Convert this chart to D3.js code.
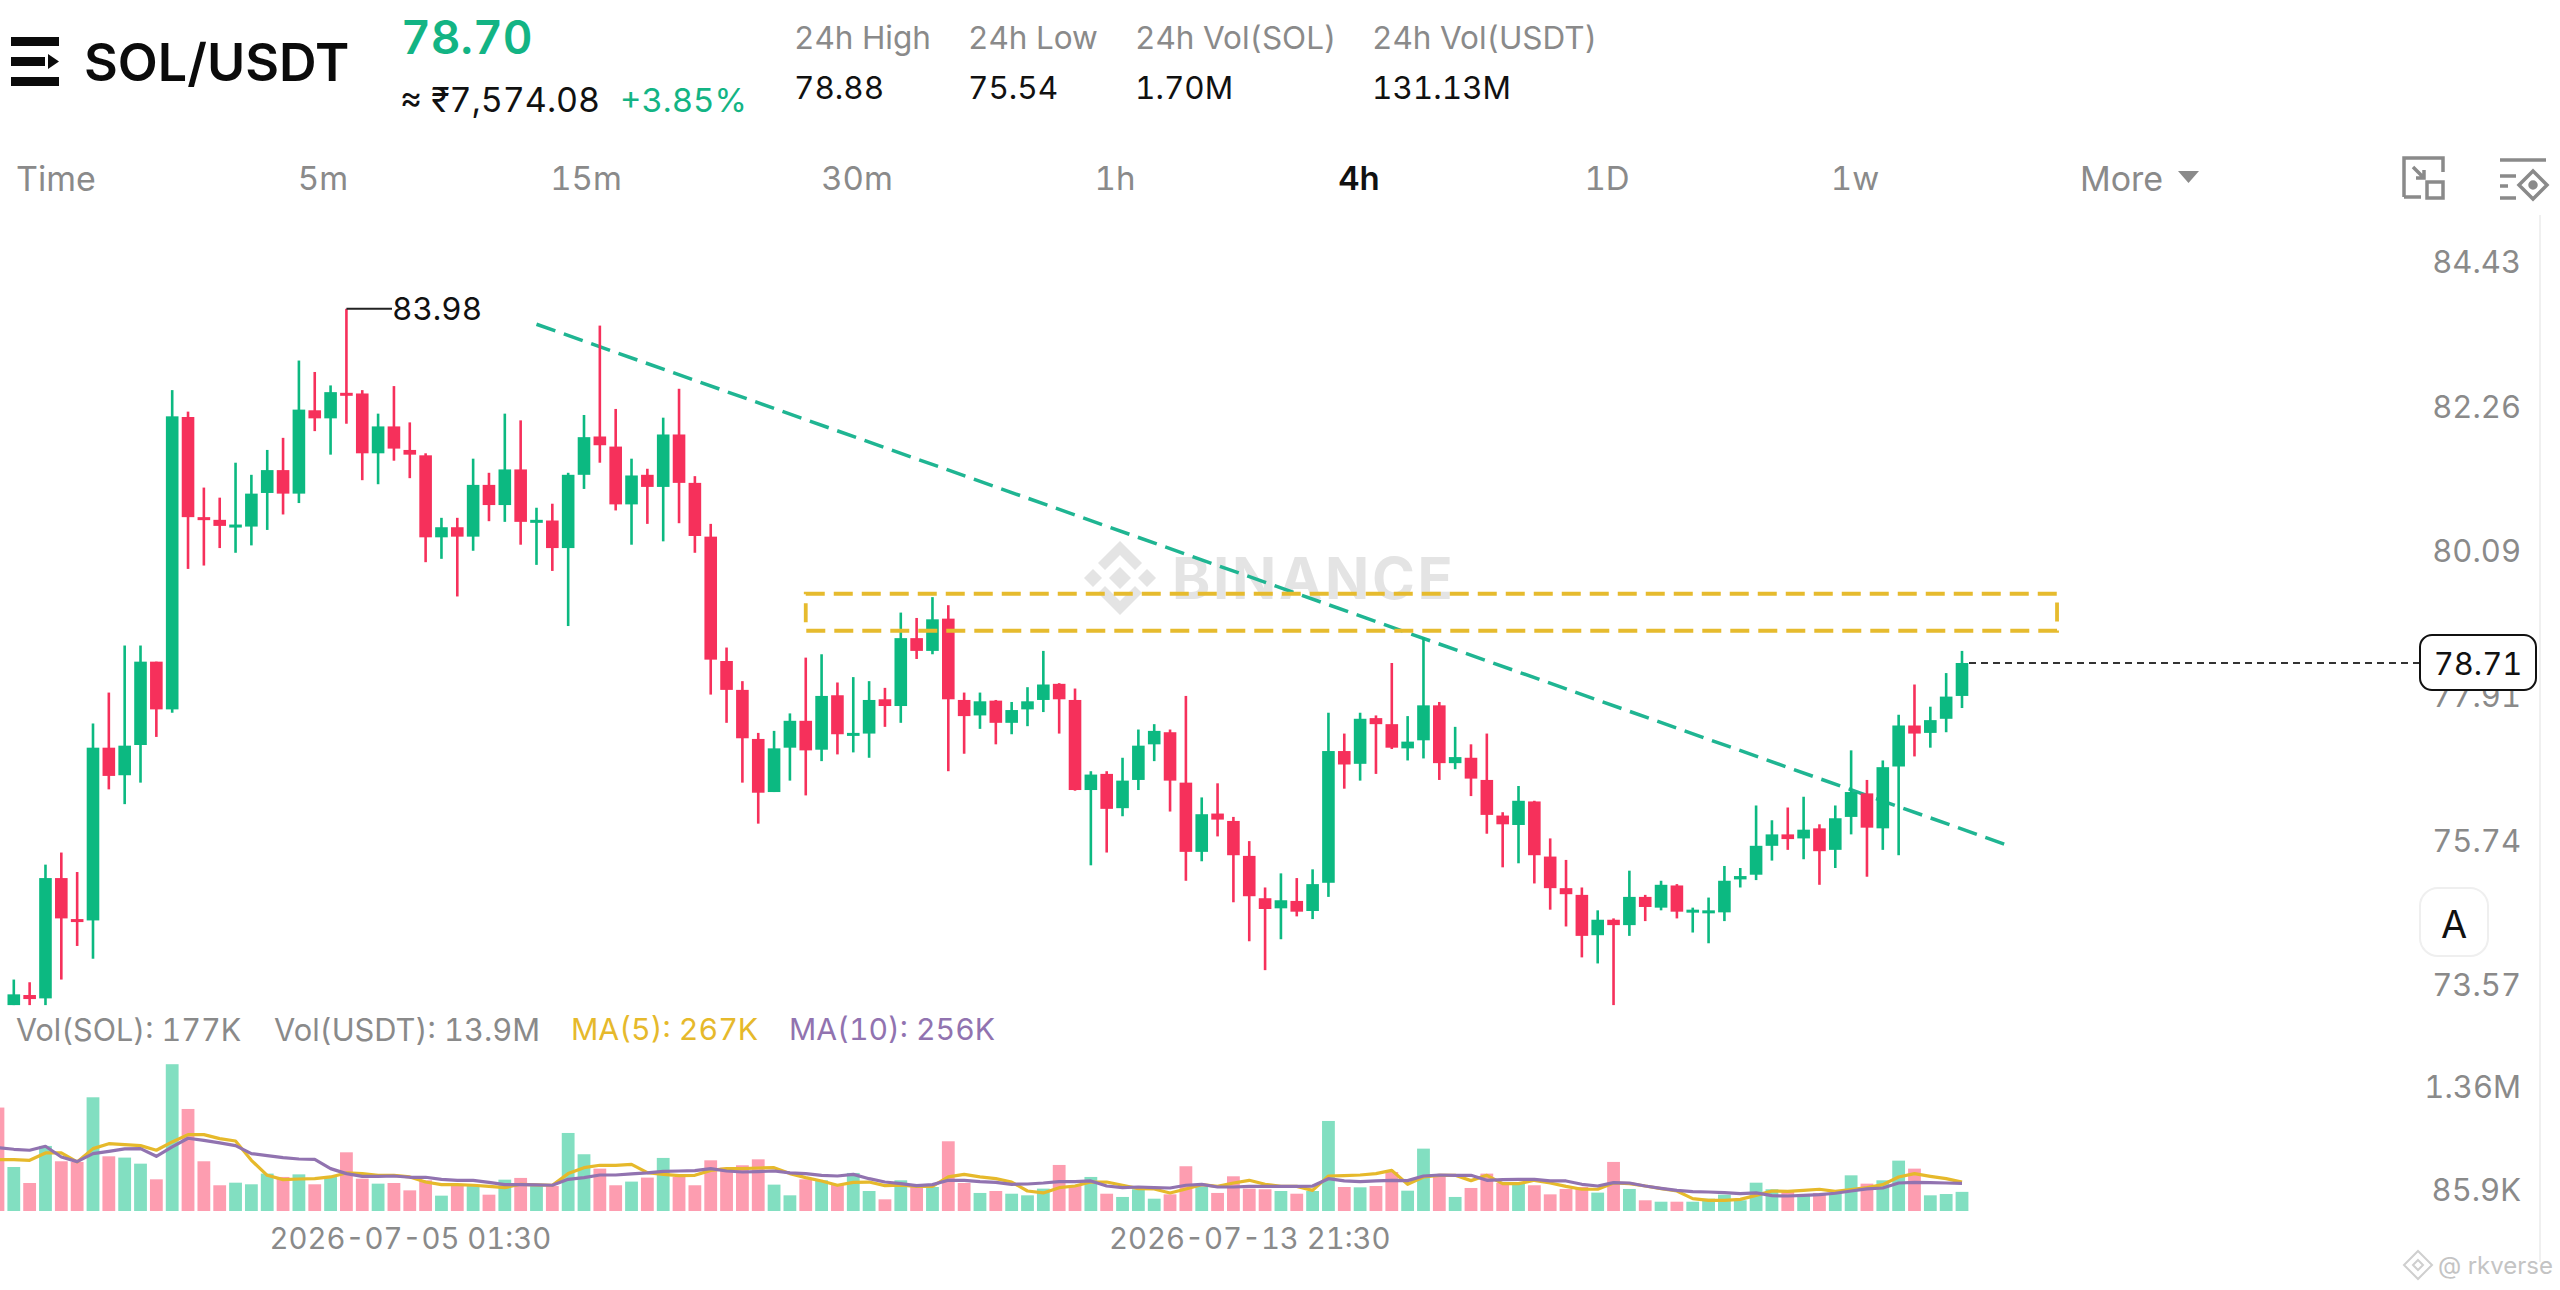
<!DOCTYPE html>
<html>
<head>
<meta charset="utf-8">
<script src="https://cdn.jsdelivr.net/npm/d3@7"></script>
<style>
  html, body { margin: 0; padding: 0; background: #fff; }
  svg { display: block; }
  text { font-family: Inter, Roboto, sans-serif; font-variant-numeric: tabular-nums; }
</style>
</head>
<body>
<script>
// Candles
const opens = [73.62,73.77,73.72,75.51,74.90,74.88,77.45,77.04,77.49,78.73,78.02,82.37,80.88,80.84,80.74,80.74,81.24,81.58,81.23,82.47,82.35,82.73,82.72,81.83,82.23,81.88,81.80,80.58,80.73,80.59,81.36,81.06,81.59,80.82,80.83,80.42,81.51,82.08,81.93,81.07,81.51,81.33,82.11,81.39,80.59,78.74,78.31,77.58,76.79,77.45,77.85,77.42,78.23,77.65,77.66,78.17,78.07,79.08,78.89,79.37,78.16,77.93,78.15,77.82,78.02,78.16,78.40,78.16,76.82,77.06,76.55,76.97,77.50,77.68,76.93,75.90,76.47,76.36,75.84,75.21,75.06,75.17,75.02,75.44,77.40,77.21,77.89,77.80,77.44,77.56,78.08,77.22,77.30,76.97,76.44,76.30,76.65,75.83,75.36,75.26,74.66,74.89,74.81,75.23,75.07,75.40,75.02,75.01,75.00,75.49,75.56,75.99,76.16,76.10,76.25,75.93,76.42,76.77,76.25,77.17,77.78,77.67,77.88,78.22]
const closes = [73.78,73.71,75.51,74.91,74.87,77.45,77.03,77.48,78.73,78.02,82.38,80.88,80.85,80.75,80.77,81.23,81.58,81.23,82.48,82.35,82.74,82.70,81.83,82.23,81.90,81.81,80.58,80.73,80.59,81.36,81.06,81.59,80.81,80.84,80.42,81.51,82.07,81.95,81.07,81.50,81.33,82.11,81.39,80.60,78.76,78.31,77.59,76.78,77.44,77.85,77.41,78.22,77.65,77.67,78.16,78.07,79.08,78.89,79.36,78.17,77.92,78.14,77.82,78.01,78.14,78.39,78.17,76.82,77.05,76.54,76.96,77.48,77.70,76.96,75.90,76.46,76.38,75.85,75.24,75.05,75.18,75.01,75.42,77.40,77.20,77.88,77.80,77.45,77.54,78.08,77.22,77.31,76.99,76.45,76.31,76.66,75.85,75.36,75.27,74.65,74.89,74.81,75.23,75.08,75.41,75.01,75.04,75.03,75.47,75.54,75.99,76.16,76.09,76.23,75.91,76.40,76.79,76.26,77.16,77.78,77.66,77.86,78.21,78.71]
const highs = [74.00,73.96,75.71,75.89,75.60,77.81,78.27,78.97,78.97,78.73,82.77,82.45,81.32,81.17,81.69,81.51,81.88,82.06,83.21,83.04,82.84,83.98,82.77,82.42,82.83,82.29,81.83,80.87,80.87,81.75,81.54,82.42,82.32,81.02,81.08,81.54,82.40,83.73,82.49,81.75,81.60,82.36,82.79,81.49,80.78,78.94,78.44,77.67,77.70,77.96,78.79,78.84,78.42,78.50,78.44,78.34,79.46,79.38,79.69,79.57,78.27,78.27,78.16,78.13,78.35,78.89,78.41,78.33,77.10,77.10,77.30,77.72,77.80,77.72,78.22,76.71,76.92,76.42,76.06,75.37,75.58,75.51,75.64,77.97,77.66,77.97,77.93,78.71,77.92,79.09,78.13,77.76,77.50,77.66,76.49,76.88,76.66,76.10,75.78,75.37,75.03,74.91,75.62,75.26,75.47,75.42,75.07,75.22,75.69,75.66,76.59,76.37,76.56,76.72,76.31,76.59,77.41,76.97,77.26,77.94,78.39,78.06,78.56,78.89]
const lows = [73.62,73.62,73.62,74.00,74.50,74.31,76.83,76.61,76.93,77.61,77.97,80.11,80.16,80.42,80.35,80.46,80.69,80.92,81.09,82.16,81.81,82.27,81.43,81.37,81.72,81.46,80.21,80.26,79.70,80.38,80.82,80.81,80.47,80.17,80.08,79.26,81.30,81.69,80.98,80.47,80.78,80.52,80.79,80.35,78.24,77.82,76.93,76.32,76.79,76.96,76.74,77.25,77.35,77.38,77.30,77.76,77.82,78.77,78.84,77.10,77.36,77.73,77.50,77.65,77.77,77.98,77.66,76.81,75.70,75.89,76.43,76.82,77.25,76.50,75.47,75.76,76.13,75.15,74.57,74.14,74.60,74.94,74.90,75.23,76.84,76.96,77.06,77.43,77.26,77.29,76.97,77.13,76.73,76.17,75.67,75.73,75.43,75.04,74.79,74.33,74.24,73.62,74.65,74.87,75.03,74.91,74.70,74.54,74.87,75.37,75.48,75.77,75.93,75.79,75.41,75.66,76.16,75.53,75.93,75.85,77.32,77.45,77.68,78.04]

// Volume panel (thousands of SOL). First entry belongs to the bar cut off at the left edge.
const volumes = [957,407,259,602,460,454,1052,506,494,438,293,1358,944,460,238,262,247,346,315,339,247,315,543,299,253,259,191,284,142,238,235,151,290,306,231,231,722,525,392,238,272,309,491,315,238,469,401,423,478,244,145,293,284,247,352,185,108,284,222,222,645,259,167,185,160,145,207,426,238,315,160,130,201,114,154,414,228,167,321,207,201,185,160,185,833,222,219,231,361,188,577,315,130,213,346,259,259,238,154,204,222,170,454,204,99,86,86,86,114,151,99,262,201,176,145,167,167,330,253,284,466,392,145,157,177]
const ma5 = [475,475,469,537,537,454,577,623,614,605,562,639,707,707,670,648,469,330,290,296,299,315,352,346,330,330,315,268,244,244,238,228,216,247,241,238,346,401,423,423,432,355,339,327,330,376,392,392,398,401,346,309,278,238,265,268,235,238,228,228,315,339,315,299,268,185,167,216,231,268,268,238,207,204,167,204,244,228,259,284,247,228,228,191,324,327,333,346,376,247,315,330,330,281,330,253,253,284,259,228,201,201,259,253,231,207,185,114,99,99,108,145,185,182,191,201,182,198,216,244,315,346,321,299,267]
const ma10 = [586,571,562,599,500,457,531,552,574,577,506,593,673,654,630,605,531,512,494,481,478,392,346,321,321,324,312,312,293,284,284,265,244,244,241,238,293,309,333,333,343,352,367,370,373,392,370,361,364,370,352,346,330,324,339,299,268,253,235,244,284,284,272,265,247,250,259,272,272,278,231,216,222,216,213,238,247,222,222,228,228,228,228,231,299,278,272,278,284,281,324,333,330,330,284,290,293,293,278,278,247,231,262,259,231,210,191,179,176,170,160,167,142,139,145,151,164,185,204,213,259,265,262,259,256]

// Axis labels
const priceTicks = [84.43, 82.26, 80.09, 77.91, 75.74, 73.57]
const volTicks = [1360, 85.9]
const volTickLabels = ['1.36M', '85.9K']
const timeTicks = [25, 78]
const timeLabels = ['2026-07-05 01:30', '2026-07-13 21:30']

// Header texts
const statHeads = ['24h High', '24h Low', '24h Vol(SOL)', '24h Vol(USDT)']
const statValues = ['78.88', '75.54', '1.70M', '131.13M']
const tabs = ['5m', '15m', '30m', '1h', '4h', '1D', '1w']

// Drawings on the chart, as candle index / price
const trendLine = [[33, 83.75], [126.1, 75.98]]
const zone = { from: 50, to: 129, top: 79.74, bottom: 79.19 }
const lastPrice = 78.71
const maxPrice = 83.98

const colors = {
  up: '#0CB981',
  down: '#F6305B',
  volUp: '#82DFC1',
  volDown: '#FD9DB0',
  trend: '#1FB592',
  zone: '#E6BB2E',
  ma5: '#E6B92B',
  ma10: '#9173B0',
  muted: '#8A8A8A',
  text: '#111111',
  quote: '#13B484',
}

const svg = d3.select('body').append('svg')
  .attr('width', 2560).attr('height', 1290)
  .attr('viewBox', '0 0 2560 1290')

svg.append('rect').attr('width', 2560).attr('height', 1290).attr('fill', '#fff')

// Scales
const x = d3.scaleLinear().domain([0, 123]).range([13.8, 1962])
const y = d3.scaleLinear().domain([78.71, 83.98]).range([663, 308.8])
const yVol = d3.scaleLinear().domain([0, 1360]).range([1211, 1064])
// the printed price labels run on their own slightly tighter spacing
const yLabel = d3.scaleLinear().domain([84.43, 73.57]).range([263, 986])

function label(txt, px, py, size, fill, opts = {}) {
  return svg.append('text')
    .attr('x', px).attr('y', py)
    .attr('dominant-baseline', 'central')
    .attr('text-anchor', opts.anchor || 'start')
    .style('font-size', size + 'px')
    .style('font-weight', opts.weight || 400)
    .style('fill', fill)
    .text(txt)
}

// Watermark
const wm = svg.append('g').attr('transform', 'translate(1120,578)').attr('fill', '#E4E4E4')
const diamond = (cx, cy, r) => `M${cx},${cy - r}L${cx + r},${cy}L${cx},${cy + r}L${cx - r},${cy}Z`
wm.append('path').attr('d', diamond(0, 0, 11))
wm.append('path').attr('d', diamond(-27, 0, 9))
wm.append('path').attr('d', diamond(27, 0, 9))
wm.append('path').attr('d', 'M0,-37L22,-15L15,-8L0,-23L-15,-8L-22,-15Z')
wm.append('path').attr('d', 'M0,37L22,15L15,8L0,23L-15,8L-22,15Z')
label('BINANCE', 1172, 578, 58, '#E4E4E4', { weight: 700 }).style('letter-spacing', '2.7px')

// Header
const logo = svg.append('g').attr('fill', '#0B0B0B')
logo.append('rect').attr('x', 11).attr('y', 37).attr('width', 48).attr('height', 9)
logo.append('rect').attr('x', 11).attr('y', 57).attr('width', 34).attr('height', 9)
logo.append('path').attr('d', 'M48,54L59,61.5L48,69Z')
logo.append('rect').attr('x', 11).attr('y', 77).attr('width', 48).attr('height', 9)

label('SOL/USDT', 84, 62, 52, '#0B0B0B', { weight: 600 })
label('78.70', 401, 37, 46, colors.quote, { weight: 600 })
label('≈ ₹7,574.08', 400, 99, 34, colors.text)
label('+3.85%', 620, 100, 33, colors.quote)

const statX = d3.scaleOrdinal().domain(statHeads).range([794, 968, 1135, 1372])
statHeads.forEach((h, i) => {
  label(h, statX(h), 37, 31.5, colors.muted)
  label(statValues[i], statX(h), 87, 31.5, colors.text)
})

// Timeframe tabs
label('Time', 16, 178, 34, colors.muted)
const tabX = d3.scaleOrdinal().domain(tabs).range([323, 586, 857, 1115, 1359, 1607, 1855])
tabs.forEach(t => {
  const on = t === '4h'
  label(t, tabX(t), 178, 33, on ? colors.text : colors.muted, { anchor: 'middle', weight: on ? 600 : 400 })
})
label('More', 2080, 178, 34, colors.muted)
svg.append('path').attr('d', 'M2178,171L2199,171L2188.5,183Z').attr('fill', colors.muted)

// Icons top right
const icon1 = svg.append('g').attr('transform', 'translate(-7,0)').attr('fill', 'none').attr('stroke', colors.muted).attr('stroke-width', 3.5)
icon1.append('path').attr('d', 'M2411,197V158H2450V172M2411,197H2428')
icon1.append('rect').attr('x', 2434).attr('y', 182).attr('width', 16).attr('height', 16)
icon1.append('path').attr('d', 'M2420,167L2431,178M2431,170V178H2423')
const icon2 = svg.append('g').attr('transform', 'translate(-6,0)').attr('fill', 'none').attr('stroke', colors.muted).attr('stroke-width', 3.5)
icon2.append('path').attr('d', 'M2506,160H2552M2506,176H2522M2506,198H2522M2506,186H2514')
icon2.append('path').attr('d', 'M2539,171L2553,185L2539,199L2525,185Z')
icon2.append('circle').attr('cx', 2539).attr('cy', 185).attr('r', 3).attr('fill', colors.muted)

// Right hand separator
svg.append('line').attr('x1', 2540).attr('x2', 2540).attr('y1', 215).attr('y2', 1262)
  .attr('stroke', '#F0F0F0').attr('stroke-width', 2)

// Trend line sits behind the candles
svg.append('path')
  .attr('d', d3.line().x(d => x(d[0])).y(d => y(d[1]))(trendLine))
  .attr('fill', 'none').attr('stroke', colors.trend)
  .attr('stroke-width', 3.5).attr('stroke-dasharray', '20,9')

// Candles
const candles = svg.append('g').selectAll('g').data(d3.range(opens.length)).join('g')
  .attr('fill', i => closes[i] >= opens[i] ? colors.up : colors.down)
candles.append('rect')
  .attr('x', i => x(i) - 1.3).attr('width', 2.6)
  .attr('y', i => y(highs[i])).attr('height', i => y(lows[i]) - y(highs[i]))
candles.append('rect')
  .attr('x', i => x(i) - 6.3).attr('width', 12.6)
  .attr('y', i => y(Math.max(opens[i], closes[i])))
  .attr('height', i => Math.max(3, Math.abs(y(opens[i]) - y(closes[i]))))

// Resistance zone
svg.append('rect')
  .attr('x', x(zone.from)).attr('y', y(zone.top))
  .attr('width', x(zone.to) - x(zone.from)).attr('height', y(zone.bottom) - y(zone.top))
  .attr('fill', 'none').attr('stroke', colors.zone)
  .attr('stroke-width', 3.8).attr('stroke-dasharray', '19,9')

// High marker
const hiIdx = highs.indexOf(maxPrice)
svg.append('line')
  .attr('x1', x(hiIdx)).attr('x2', 392).attr('y1', y(maxPrice)).attr('y2', y(maxPrice))
  .attr('stroke', '#222').attr('stroke-width', 2)
label('83.98', 392, y(maxPrice), 31.5, colors.text)

// Price axis
const priceAxis = svg.append('g').attr('transform', 'translate(2521,0)')
  .call(d3.axisRight(yLabel).tickValues(priceTicks).tickSize(0).tickFormat(d3.format('.2f')))
priceAxis.select('.domain').remove()
priceAxis.selectAll('text')
  .attr('x', 0)
  .attr('text-anchor', 'end')
  .style('font-size', '31px').style('font-family', 'Inter, Roboto, sans-serif')
  .style('fill', colors.muted)

// Last price line and tag
svg.append('line')
  .attr('x1', x(opens.length - 1) + 7).attr('x2', 2420).attr('y1', y(lastPrice)).attr('y2', y(lastPrice))
  .attr('stroke', '#333').attr('stroke-width', 2).attr('stroke-dasharray', '7,5')
svg.append('rect').attr('x', 2420).attr('y', y(lastPrice) - 28).attr('width', 116).attr('height', 55).attr('rx', 12)
  .attr('fill', '#fff').attr('stroke', '#111').attr('stroke-width', 2)
label('78.71', 2478, y(lastPrice), 31, colors.text, { anchor: 'middle' })

// "A" button
svg.append('rect').attr('x', 2420).attr('y', 888).attr('width', 68).attr('height', 68).attr('rx', 18)
  .attr('fill', '#fff').attr('stroke', '#EFEFEF').attr('stroke-width', 2)
label('A', 2454, 924, 38, colors.text, { anchor: 'middle' })

// Volume legend
label('Vol(SOL): 177K', 16, 1029, 30.5, colors.muted)
label('Vol(USDT): 13.9M', 274, 1029, 30.8, colors.muted)
label('MA(5): 267K', 571, 1029, 30.3, colors.ma5)
label('MA(10): 256K', 789, 1029, 30.2, colors.ma10)

// Volume bars. volumes[0] is candle index -1, which was a down bar
svg.append('g').selectAll('rect').data(volumes).join('rect')
  .attr('x', (d, i) => x(i - 1) - 6.4).attr('width', 12.8)
  .attr('y', d => yVol(d)).attr('height', d => yVol(0) - yVol(d))
  .attr('fill', (d, i) => i === 0 || closes[i - 1] < opens[i - 1] ? colors.volDown : colors.volUp)

const maLine = d3.line().x((d, i) => x(i - 1)).y(d => yVol(d))
svg.append('path').attr('d', maLine(ma5)).attr('fill', 'none')
  .attr('stroke', colors.ma5).attr('stroke-width', 3.2).attr('stroke-linejoin', 'round')
svg.append('path').attr('d', maLine(ma10)).attr('fill', 'none')
  .attr('stroke', colors.ma10).attr('stroke-width', 3.2).attr('stroke-linejoin', 'round')

// Volume axis labels, top one hangs below its level, bottom one above
volTicks.forEach((v, i) => {
  label(volTickLabels[i], 2521, yVol(v) + (i === 0 ? 22 : -12), 31, colors.muted, { anchor: 'end' })
})

// Time axis
const timeAxis = svg.append('g').attr('transform', 'translate(0,1231)')
  .call(d3.axisBottom(x).tickValues(timeTicks).tickSize(0).tickFormat((d, i) => timeLabels[i]))
timeAxis.select('.domain').remove()
timeAxis.selectAll('text')
  .attr('y', 0).attr('dy', '0.6em')
  .style('font-size', '29.3px').style('font-family', 'Inter, Roboto, sans-serif')
  .style('fill', colors.muted)

// Corner credit
const cr = svg.append('g').attr('transform', 'translate(2418,1265)').attr('fill', 'none').attr('stroke', '#CFCFCF').attr('stroke-width', 2)
cr.append('path').attr('d', diamond(0, 0, 14))
cr.append('path').attr('d', diamond(0, 0, 5))
label('@ rkverse', 2438, 1265, 24, '#C4C4C4')
</script>
</body>
</html>
